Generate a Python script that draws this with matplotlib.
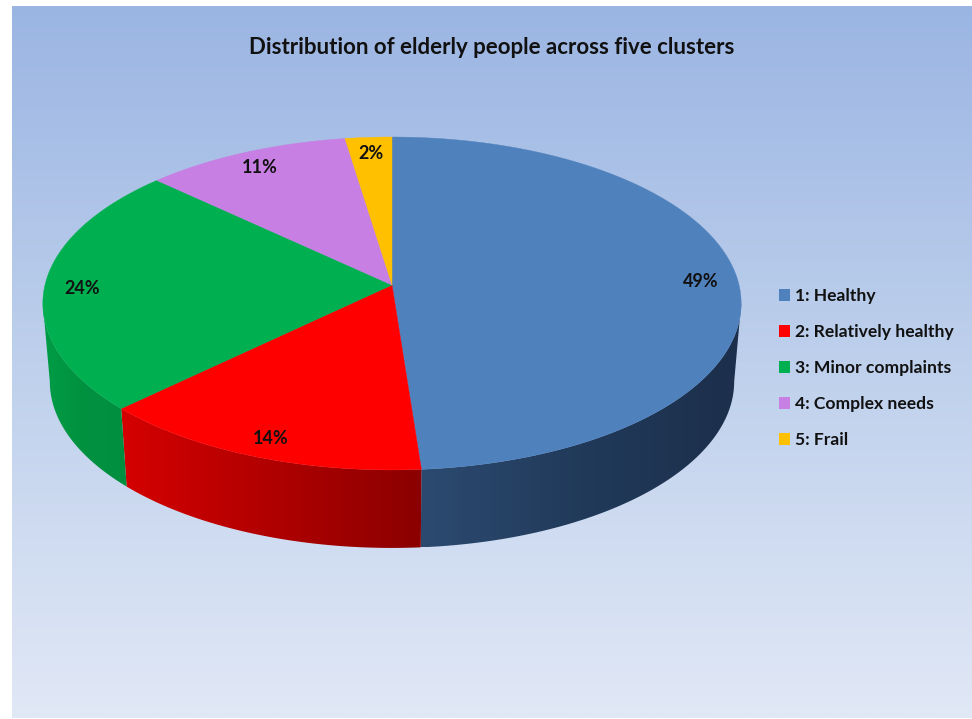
import numpy as np
import matplotlib
matplotlib.use("Agg")
import matplotlib.pyplot as plt
from matplotlib.patches import Patch, Polygon
from matplotlib.colors import LinearSegmentedColormap

TITLE = "Distribution of elderly people across five clusters"
categories = ["1: Healthy", "2: Relatively healthy", "3: Minor complaints", "4: Complex needs", "5: Frail"]
values = [48.8, 14.0, 24.2, 10.6, 2.4]
colors = ["#4F81BD", "#FF0000", "#00B050", "#C77FE3", "#FFC000"]
side_stops = [
    ["#2C4A70", "#213A5A", "#1C2F4B"],
    ["#D50000", "#B00000", "#8B0000"],
    ["#009C46", "#00913F", "#008F40"],
    ["#C77FE3", "#C77FE3", "#C77FE3"],
    ["#FFC000", "#FFC000", "#FFC000"],
]

W, H = 972, 719
CX, CY = 392.0, 285.0      # apex of the wedges on screen
A, B, K = 164.4, 347.0, 0.111   # perspective of the tilted disc
DEPTH, SHRINK = 78.0, 0.98
LABEL_R = 0.893
# angles where the rim turns away from the viewer
WALL_FROM, WALL_TO = 96.4, 263.6


def project(theta_deg, r=1.0):
    t = np.radians(theta_deg)
    u, v = r * np.sin(t), r * np.cos(t)
    w = 1 + K * v
    return CX + B * u / w, CY - A * v / w


fig = plt.figure(figsize=(W / 100, H / 100), dpi=100, facecolor="white")
ax = fig.add_axes([0, 0, 1, 1])
ax.axis("off")

bg = LinearSegmentedColormap.from_list("bg", ["#9BB5E3", "#BED0EC", "#E1E8F6"])
ax.imshow(np.linspace(0, 1, 256)[:, None], cmap=bg, extent=(12, W, 718, 6), aspect="auto", zorder=0)

edges = np.concatenate([[0], np.cumsum(values)]) / np.sum(values) * 360

# side wall, drawn first so that the top hides what lies behind it
for i in range(len(values)):
    lo, hi = max(edges[i], WALL_FROM), min(edges[i + 1], WALL_TO)
    if hi <= lo:
        continue
    th = np.linspace(lo, hi, 300)
    cmap = LinearSegmentedColormap.from_list("s", side_stops[i])
    x, y = project(th)
    xb = CX + (x - CX) * SHRINK
    yb = y + DEPTH
    px = np.r_[x, xb[::-1]]
    py = np.r_[y, yb[::-1]]
    wall = Polygon(np.c_[px, py], closed=True, transform=ax.transData, fc="none", ec="none")
    ax.add_patch(wall)
    # shade by position along the wall: light on the left, dark on the right
    im = ax.imshow(np.linspace(0, 1, 256)[None, :], cmap=cmap, aspect="auto", zorder=2,
                   extent=(px.min(), px.max(), py.max(), py.min()))
    im.set_clip_path(wall)

# top of the disc
for i in range(len(values)):
    th = np.linspace(edges[i], edges[i + 1], 200)
    x, y = project(th)
    ax.fill(np.r_[CX, x], np.r_[CY, y], color=colors[i], lw=0.3, zorder=3)
    mx, my = project(0.5 * (edges[i] + edges[i + 1]), LABEL_R)
    ax.annotate(f"{values[i]:.0f}%", (mx, my), xytext=(0, -1.5), textcoords="offset points",
                ha="center", va="center", family="Lato",
                weight="bold", fontsize=13, color="#111111", zorder=5)

ax.text(492, 47, TITLE, ha="center", va="center", family="Lato", weight="bold",
        fontsize=16, color="#111111", zorder=5)

ax.set_xlim(0, W)
ax.set_ylim(H, 0)

handles = [Patch(facecolor=c, edgecolor="none") for c in colors]
ax.legend(handles, categories, loc="center left", bbox_to_anchor=(772 / W, 1 - 368 / H),
          frameon=False, prop={"family": "Lato", "weight": "bold", "size": 12.6},
          labelcolor="#111111", handlelength=0.65, handleheight=0.65, handletextpad=0.25,
          labelspacing=1.14, borderpad=0, borderaxespad=0.4)

fig.savefig("out.png", dpi=100)
